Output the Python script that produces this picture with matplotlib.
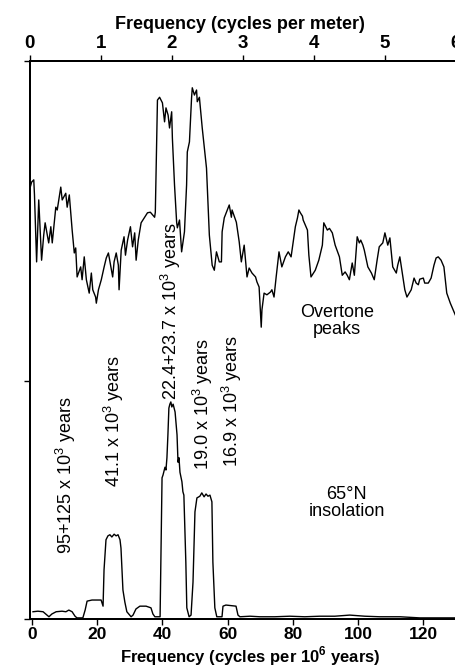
import matplotlib
matplotlib.use("Agg")
import matplotlib.pyplot as plt

plt.rcParams['font.family'] = ['Liberation Sans', 'DejaVu Sans']
plt.rcParams['mathtext.fontset'] = 'custom'
plt.rcParams['mathtext.rm'] = 'Liberation Sans'
plt.rcParams['mathtext.bf'] = 'Liberation Sans:bold'

# Upper spectrum: sediment record, frequency in cycles per meter
overtone_freq = [
    0.00, 0.03, 0.06, 0.07, 0.10, 0.13, 0.17, 0.20, 0.22, 0.27, 0.30, 0.32,
    0.37, 0.39, 0.44, 0.46, 0.51, 0.53, 0.56, 0.58, 0.60, 0.63, 0.65, 0.67,
    0.72, 0.74, 0.77, 0.80, 0.84, 0.87, 0.89, 0.93, 0.94, 0.97, 1.01, 1.05,
    1.08, 1.11, 1.14, 1.17, 1.19, 1.22, 1.25, 1.26, 1.29, 1.33, 1.35, 1.38,
    1.42, 1.45, 1.48, 1.50, 1.53, 1.57, 1.62, 1.66, 1.70, 1.76, 1.77, 1.80,
    1.83, 1.87, 1.90, 1.92, 1.95, 1.97, 2.00, 2.01, 2.04, 2.07, 2.08, 2.11,
    2.14, 2.18, 2.21, 2.22, 2.25, 2.28, 2.29, 2.32, 2.35, 2.36, 2.39, 2.43,
    2.49, 2.50, 2.53, 2.56, 2.57, 2.60, 2.63, 2.67, 2.70, 2.71, 2.74, 2.77,
    2.81, 2.84, 2.85, 2.91, 2.95, 2.98, 3.02, 3.06, 3.09, 3.13, 3.18, 3.20,
    3.23, 3.26, 3.27, 3.30, 3.34, 3.39, 3.41, 3.44, 3.47, 3.51, 3.55, 3.60,
    3.64, 3.68, 3.74, 3.77, 3.79, 3.81, 3.84, 3.85, 3.91, 3.93, 3.96, 4.02,
    4.07, 4.12, 4.14, 4.19, 4.22, 4.26, 4.30, 4.36, 4.40, 4.44, 4.47, 4.50,
    4.54, 4.57, 4.61, 4.64, 4.66, 4.69, 4.71, 4.76, 4.81, 4.85, 4.89, 4.92,
    4.97, 5.00, 5.04, 5.07, 5.11, 5.16, 5.18, 5.21, 5.25, 5.28, 5.31, 5.37,
    5.41, 5.44, 5.47, 5.49, 5.54, 5.56, 5.61, 5.65, 5.69, 5.72, 5.75, 5.79,
    5.83, 5.87, 5.92, 5.96, 5.99,
]
overtone_power = [
    76.9, 78.3, 78.7, 76.0, 64.0, 75.1, 64.3, 68.8, 71.0, 67.4, 70.3, 67.4,
    73.8, 73.3, 77.4, 75.1, 76.3, 73.8, 76.0, 72.8, 69.7, 65.6, 66.5, 61.3,
    63.1, 60.8, 64.9, 60.8, 58.4, 62.0, 59.0, 57.7, 56.6, 59.0, 60.8, 63.1,
    64.7, 65.6, 63.4, 61.3, 64.0, 65.6, 63.4, 59.0, 66.1, 68.5, 65.2, 67.9,
    70.3, 66.7, 69.2, 64.3, 67.9, 71.0, 72.0, 72.8, 72.9, 72.0, 72.9, 93.0,
    93.5, 92.5, 89.1, 91.6, 90.3, 88.0, 90.9, 86.2, 77.8, 71.1, 70.1, 71.5,
    65.8, 69.4, 77.8, 83.7, 85.5, 93.4, 95.2, 93.9, 94.8, 92.7, 93.5, 88.0,
    80.8, 77.8, 68.8, 64.7, 63.4, 62.5, 65.8, 64.0, 64.0, 69.4, 71.9, 72.9,
    74.2, 72.0, 73.3, 71.1, 67.6, 64.0, 67.0, 61.3, 62.9, 62.0, 61.3, 60.4,
    59.5, 52.3, 55.4, 58.4, 58.1, 58.6, 59.0, 57.7, 61.3, 65.8, 63.1, 64.9,
    65.8, 64.9, 70.3, 71.9, 73.3, 72.8, 72.2, 71.5, 69.7, 65.2, 61.3, 62.5,
    64.3, 67.0, 71.0, 69.7, 70.0, 69.2, 67.0, 64.9, 61.6, 62.2, 61.6, 60.8,
    63.8, 61.6, 68.5, 67.4, 67.9, 67.0, 66.1, 63.1, 62.0, 60.8, 64.3, 66.7,
    67.4, 69.2, 67.0, 68.3, 63.1, 62.0, 63.4, 64.9, 61.6, 59.0, 57.7, 59.0,
    61.1, 60.2, 59.9, 60.9, 61.1, 60.2, 60.2, 61.1, 63.4, 64.7, 64.9, 64.3,
    63.1, 58.4, 56.6, 55.4, 54.5,
]

# Lower spectrum: 65N insolation, frequency in cycles per 10^6 years
insol_freq = [
    0.3, 1.8, 3.4, 4.6, 5.2, 6.1, 7.4, 9.2, 10.4, 11.3, 12.3, 13.2, 13.8,
    15.6, 16.3, 16.9, 18.4, 21.2, 21.8, 22.1, 22.7, 23.3, 23.9, 24.5, 25.2,
    25.8, 26.4, 27.0, 27.3, 27.9, 28.5, 29.1, 30.4, 31.0, 31.9, 33.1, 35.0,
    36.5, 37.1, 37.7, 39.3, 39.9, 40.2, 40.8, 41.1, 41.4, 41.7, 42.0, 42.3,
    42.6, 42.9, 43.3, 43.9, 44.5, 44.8, 45.1, 45.4, 46.0, 46.3, 46.6, 47.2,
    47.5, 48.2, 48.8, 49.4, 50.0, 50.6, 51.5, 52.1, 52.8, 53.4, 54.0, 54.6,
    55.2, 55.5, 56.1, 56.7, 58.3, 58.6, 59.5, 62.6, 63.2, 63.8, 66.9, 69.9,
    74.5, 79.1, 83.7, 88.3, 92.9, 97.5, 102.1, 106.7, 112.9, 119.0, 130.0,
]
insol_power = [
    1.3, 1.4, 1.3, 0.7, 0.4, 0.9, 1.3, 1.4, 1.3, 1.6, 1.3, 0.5, 0.2,
    0.2, 1.6, 3.2, 3.4, 3.4, 2.3, 8.8, 14.2, 14.9, 15.1, 14.7, 15.2,
    14.9, 15.1, 14.2, 12.7, 5.2, 3.0, 1.3, 0.4, 0.7, 1.8, 2.3, 2.3,
    2.0, 0.9, 0.4, 0.4, 25.3, 25.8, 27.2, 26.7, 28.9, 33.0, 37.8, 38.5,
    38.9, 38.0, 38.5, 37.1, 33.0, 28.1, 28.9, 26.3, 24.6, 22.8, 22.2, 10.2,
    2.0, 0.4, 0.7, 6.6, 19.2, 21.7, 22.0, 22.6, 21.9, 22.4, 22.0, 22.2,
    21.0, 10.2, 2.0, 0.4, 0.4, 2.3, 2.5, 2.3, 0.7, 0.4, 0.5, 0.4,
    0.4, 0.5, 0.4, 0.5, 0.5, 0.7, 0.5, 0.4, 0.4, 0.2, 0.2,
]

panel_split = 42.7

bottom_ticks = [0, 20, 40, 60, 80, 100, 120]
top_ticks = [0, 1, 2, 3, 4, 5, 6]

period_labels = [
    ("95+125 x 10$^3$ years", 10.4, 25.7),
    ("41.1 x 10$^3$ years", 25.0, 35.5),
    ("22.4+23.7 x 10$^3$ years", 42.7, 55.2),
    ("19.0 x 10$^3$ years", 52.5, 38.5),
    ("16.9 x 10$^3$ years", 61.3, 39.0),
]

fig = plt.figure(figsize=(4.56, 6.67), dpi=100)
ax = fig.add_axes([29.5 / 456, 48 / 667, 426.5 / 456, 558 / 667])
ax_top = ax.twiny()

ax.plot(insol_freq, insol_power, color='black', lw=1.0)
ax_top.plot(overtone_freq, overtone_power, color='black', lw=1.0)

ax.set_xlim(-0.77, 130.1)
ax_top.set_xlim(0.0, 6.0)
ax.set_ylim(0, 100)

for a in (ax, ax_top):
    for s in a.spines.values():
        s.set_linewidth(1.4)
    a.spines['right'].set_bounds(83, 100)

ax.set_xticks(bottom_ticks, [str(t) for t in bottom_ticks],
              fontsize=12.5, fontweight='bold')
ax_top.set_xticks(top_ticks, [str(t) for t in top_ticks],
                  fontsize=13.5, fontweight='bold')
ax.set_yticks([0, panel_split, 100], ['', '', ''])

ax.tick_params(axis='x', direction='out', length=4, width=1.0, pad=1.5)
ax.tick_params(axis='y', direction='out', length=4, width=1.0)
ax_top.tick_params(axis='x', direction='out', length=4, width=1.0, pad=2.5)

ax.set_xlabel("Frequency (cycles per 10$^{\\mathbf{6}}$ years)",
              fontsize=12, fontweight='bold', va='center')
ax.xaxis.set_label_coords(0.517, -0.066)
ax_top.set_xlabel("Frequency (cycles per meter)",
                  fontsize=13, fontweight='bold', va='center')
ax_top.xaxis.set_label_coords(0.494, 1.066)

for txt, xv, yv in period_labels:
    ax.text(xv, yv, txt, rotation=90, ha='center', va='center', fontsize=13)

ax.text(93.5, 53.4, "Overtone\npeaks", ha='center', va='center',
        fontsize=13, linespacing=1.0)
ax.text(96.5, 20.8, "65°N\ninsolation", ha='center', va='center',
        fontsize=13, linespacing=0.95)

fig.savefig("out.png", dpi=100)
